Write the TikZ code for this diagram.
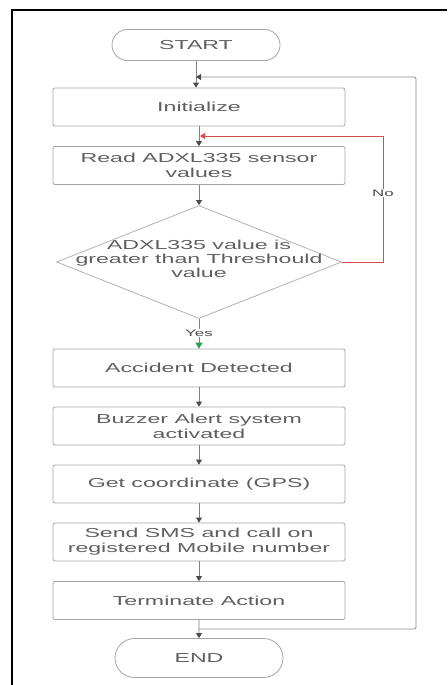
\documentclass[tikz,border=0pt]{standalone}
\usepackage{fontspec}
\setmainfont[FakeStretch=1.78]{Liberation Sans}
\usepackage{tikz}
\usetikzlibrary{arrows.meta,positioning,shapes.geometric,shapes.misc}
\definecolor{fcgray}{RGB}{165,165,165}
\definecolor{fctext}{RGB}{95,95,95}
\definecolor{fcred}{RGB}{212,78,78}
\definecolor{fcgreen}{RGB}{38,160,78}

\begin{document}
\begin{tikzpicture}[x=1pt,y=-1pt,
  font=\fontsize{13}{15}\selectfont,
  terminal/.style={rounded rectangle,draw=fcgray,line width=.8pt,minimum width=168pt,minimum height=31pt,text=fctext,inner sep=0pt},
  process/.style={draw=fcgray,line width=.8pt,rounded corners=2pt,minimum width=292pt,minimum height=38pt,align=center,text=fctext,inner sep=2pt},
  decision/.style={diamond,draw=fcgray!85,line width=.8pt,minimum width=285pt,minimum height=113pt,inner sep=0pt},
  tag/.style={font=\fontsize{9.5}{11}\selectfont,text=black!70,fill=white,inner sep=1pt},
  flow/.style={-{Triangle[width=6pt,length=5pt,color=black!70]},draw=black!50,line width=.8pt},
  yesflow/.style={-{Triangle[width=7pt,length=6pt,color=fcgreen]},draw=black!50,line width=.8pt},
  noflow/.style={-{Triangle[width=6pt,length=5pt,color=fcred]},draw=fcred,line width=.8pt},
  backflow/.style={-{Triangle[width=6pt,length=5pt,color=black!70]},draw=black!45,line width=.8pt,rounded corners=1.5pt}]

\path[use as bounding box] (0,0) rectangle (447,685);
\draw[line width=2pt] (12,685) -- (12,10) -- (447,10);

\node[terminal] (start) at (196,45) {START};
\node[process] (init) at (199,107) {Initialize};
\node[process] (read) at (199,165.5) {Read ADXL335 sensor\\values};
\node[decision] (dec) at (199,262) {};
\node[align=center,text=fctext,font=\fontsize{13}{14}\selectfont] (dectxt) at (199,259) {ADXL335 value is\\greater than Threshould\\value};
\node[process] (acc) at (199,368) {Accident Detected};
\node[process] (buzz) at (199,426) {Buzzer Alert system\\activated};
\node[process] (gps) at (199,484) {Get coordinate (GPS)};
\node[process] (sms) at (199,542) {Send SMS and call on\\registered Mobile number};
\node[process] (stopact) at (199,600.5) {Terminate Action};
\node[terminal,minimum height=39pt] (finish) at (199,658) {END};

\coordinate (jtop) at (start.south |- 0,77);
\coordinate (jred) at (200,136);
\coordinate (jlow) at (199,629);

\draw[flow] (start.south) -- (start.south |- init.north);
\draw[flow] (init) -- (read);
\draw[flow] (read) -- (dec);
\draw[yesflow] (dec) -- (acc);
\node[tag] (yes) at (199,333) {Yes};
\draw[flow] (acc) -- (buzz);
\draw[flow] (buzz) -- (gps);
\draw[flow] (gps) -- (sms);
\draw[flow] (sms) -- (stopact);
\draw[flow] (stopact) -- (finish);

% not above threshold: read again
\draw[noflow] (dec.east) -| (383,136) -- (jred);
\node[tag] (no) at (383,193) {No};

% back to the start of the cycle
\draw[backflow] (jlow) -- (416,629) -- (416,77) -- (jtop);

\end{tikzpicture}
\end{document}
